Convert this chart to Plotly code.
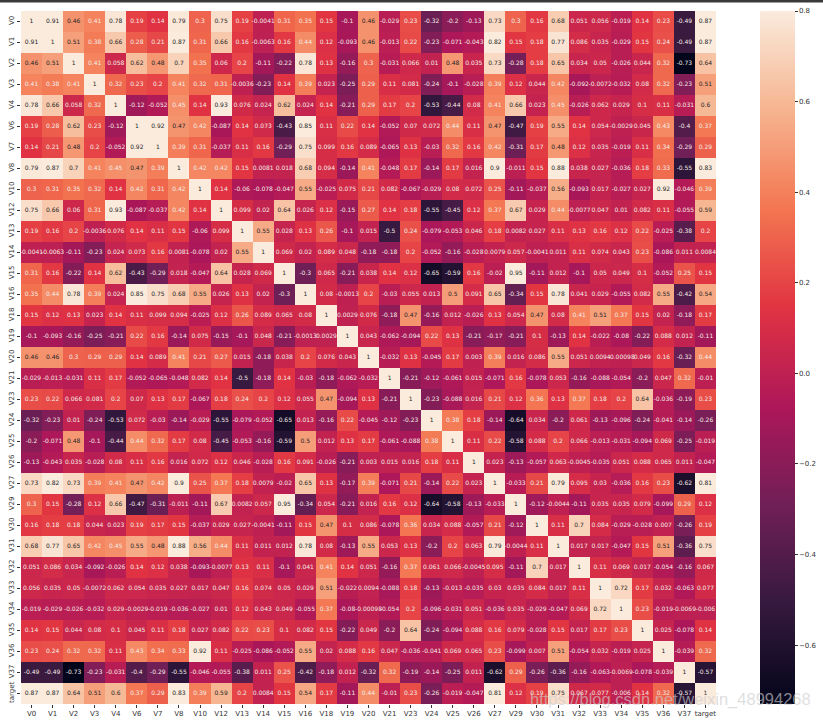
import plotly.graph_objects as go

labels = ["V0","V1","V2","V3","V4","V6","V7","V8","V10","V12","V13","V14","V15","V16","V18","V19","V20","V21","V23","V24","V25","V26","V27","V29","V30","V31","V32","V33","V34","V35","V36","V37","target"]

r_V0 = [1,.91,.46,.41,.78,.19,.14,.79,.3,.75,.19,-.0041,.31,.35,.15,-.1,.46,-.029,.23,-.32,-.2,-.13,.73,.3,.16,.68,.051,.056,-.019,.14,.23,-.49,.87]
r_V1 = [.91,1,.51,.38,.66,.28,.21,.87,.31,.66,.16,-.0063,.16,.44,.12,-.093,.46,-.013,.22,-.23,-.071,-.043,.82,.15,.18,.77,.086,.035,-.029,.15,.24,-.49,.87]
r_V2 = [.46,.51,1,.41,.058,.62,.48,.7,.35,.06,.2,-.11,-.22,.78,.13,-.16,.3,-.031,.066,.01,.48,.035,.73,-.28,.18,.65,.034,.05,-.026,.044,.32,-.73,.64]
r_V3 = [.41,.38,.41,1,.32,.23,.2,.41,.32,.31,-.0036,-.23,.14,.39,.023,-.25,.29,.11,.081,-.24,-.1,-.028,.39,.12,.044,.42,-.092,-.0072,-.032,.08,.32,-.23,.51]
r_V4 = [.78,.66,.058,.32,1,-.12,-.052,.45,.14,.93,.076,.024,.62,.024,.14,-.21,.29,.17,.2,-.53,-.44,.08,.41,.66,.023,.45,-.026,.062,.029,.1,.11,-.031,.6]
r_V6 = [.19,.28,.62,.23,-.12,1,.92,.47,.42,-.087,.14,.073,-.43,.85,.11,.22,.14,-.052,.07,.072,.44,.11,.47,-.47,.19,.55,.14,.054,-.0029,.045,.43,-.4,.37]
r_V7 = [.14,.21,.48,.2,-.052,.92,1,.39,.31,-.037,.11,.16,-.29,.75,.099,.16,.089,-.065,.13,-.03,.32,.16,.42,-.31,.17,.48,.12,.035,-.019,.11,.34,-.29,.29]
r_V8 = [.79,.87,.7,.41,.45,.47,.39,1,.42,.42,.15,.0081,.018,.68,.094,-.14,.41,-.048,.17,-.14,.17,.016,.9,-.011,.15,.88,.038,.027,-.036,.18,.33,-.55,.83]
r_V10 = [.3,.31,.35,.32,.14,.42,.31,.42,1,.14,-.06,-.078,-.047,.55,-.025,.075,.21,.082,-.067,-.029,.08,.072,.25,-.11,-.037,.56,-.093,.017,-.027,.027,.92,-.046,.39]
r_V12 = [.75,.66,.06,.31,.93,-.087,-.037,.42,.14,1,.099,.02,.64,.026,.12,-.15,.27,.14,.18,-.55,-.45,.12,.37,.67,.029,.44,-.0077,.047,.01,.082,.11,-.055,.59]
r_V13 = [.19,.16,.2,-.0036,.076,.14,.11,.15,-.06,.099,1,.55,.028,.13,.26,-.1,.015,-.5,.24,-.079,-.053,.046,.18,.0082,.027,.11,.13,.16,.12,.22,-.025,-.38,.2]
r_V14 = [-.0041,-.0063,-.11,-.23,.024,.073,.16,.0081,-.078,.02,.55,1,.069,.02,.089,.048,-.18,-.18,.2,-.052,-.16,-.028,.0079,.057,-.0041,.011,.11,.074,.043,.23,-.086,.011,.0084]
r_V15 = [.31,.16,-.22,.14,.62,-.43,-.29,.018,-.047,.64,.028,.069,1,-.3,.065,-.21,.038,.14,.12,-.65,-.59,.16,-.02,.95,-.11,.012,-.1,.05,.049,.1,-.052,.25,.15]
r_V16 = [.35,.44,.78,.39,.024,.85,.75,.68,.55,.026,.13,.02,-.3,1,.08,-.0013,.2,-.03,.055,.013,.5,.091,.65,-.34,.15,.78,.041,.029,-.055,.082,.55,-.42,.54]
r_V18 = [.15,.12,.13,.023,.14,.11,.099,.094,-.025,.12,.26,.089,.065,.08,1,.0029,.076,-.18,.47,-.16,.012,-.026,.13,.054,.47,.08,.41,.51,.37,.15,.02,-.18,.17]
r_V19 = [-.1,-.093,-.16,-.25,-.21,.22,.16,-.14,.075,-.15,-.1,.048,-.21,-.0013,.0029,1,.043,-.062,-.094,.22,.13,-.21,-.17,-.21,.1,-.13,.14,-.022,-.08,-.22,.088,.012,-.11]
r_V20 = [.46,.46,.3,.29,.29,.14,.089,.41,.21,.27,.015,-.18,.038,.2,.076,.043,1,-.032,.13,-.045,.17,.003,.39,.016,.086,.55,.051,.0094,-.00098,.049,.16,-.32,.44]
r_V21 = [-.029,-.013,-.031,.11,.17,-.052,-.065,-.048,.082,.14,-.5,-.18,.14,-.03,-.18,-.062,-.032,1,-.21,-.12,-.061,.015,-.071,.16,-.078,.053,-.16,-.088,-.054,-.2,.047,.32,-.01]
r_V23 = [.23,.22,.066,.081,.2,.07,.13,.17,-.067,.18,.24,.2,.12,.055,.47,-.094,.13,-.21,1,-.23,-.088,.016,.21,.12,.36,.13,.37,.18,.2,.64,-.036,-.19,.23]
r_V24 = [-.32,-.23,.01,-.24,-.53,.072,-.03,-.14,-.029,-.55,-.079,-.052,-.65,.013,-.16,.22,-.045,-.12,-.23,1,.38,.18,-.14,-.64,.034,-.2,.061,-.13,-.096,-.24,-.041,-.14,-.26]
r_V25 = [-.2,-.071,.48,-.1,-.44,.44,.32,.17,.08,-.45,-.053,-.16,-.59,.5,.012,.13,.17,-.061,-.088,.38,1,.11,.22,-.58,.088,.2,.066,-.013,-.031,-.094,.069,-.25,-.019]
r_V26 = [-.13,-.043,.035,-.028,.08,.11,.16,.016,.072,.12,.046,-.028,.16,.091,-.026,-.21,.003,.015,.016,.18,.11,1,.023,-.13,-.057,.063,-.0045,-.035,.051,.088,.065,.011,-.047]
r_V27 = [.73,.82,.73,.39,.41,.47,.42,.9,.25,.37,.18,.0079,-.02,.65,.13,-.17,.39,-.071,.21,-.14,.22,.023,1,-.033,.21,.79,.095,.03,-.036,.16,.23,-.62,.81]
r_V29 = [.3,.15,-.28,.12,.66,-.47,-.31,-.011,-.11,.67,.0082,.057,.95,-.34,.054,-.21,.016,.16,.12,-.64,-.58,-.13,-.033,1,-.12,-.0044,-.11,.035,.035,.079,-.099,.29,.12]
r_V30 = [.16,.18,.18,.044,.023,.19,.17,.15,-.037,.029,.027,-.0041,-.11,.15,.47,.1,.086,-.078,.36,.034,.088,-.057,.21,-.12,1,.11,.7,.084,-.029,-.028,.007,-.26,.19]
r_V31 = [.68,.77,.65,.42,.45,.55,.48,.88,.56,.44,.11,.011,.012,.78,.08,-.13,.55,.053,.13,-.2,.2,.063,.79,-.0044,.11,1,.017,.017,-.047,.15,.51,-.36,.75]
r_V32 = [.051,.086,.034,-.092,-.026,.14,.12,.038,-.093,-.0077,.13,.11,-.1,.041,.41,.14,.051,-.16,.37,.061,.066,-.0045,.095,-.11,.7,.017,1,.11,.069,.017,-.054,-.16,.067]
r_V33 = [.056,.035,.05,-.0072,.062,.054,.035,.027,.017,.047,.16,.074,.05,.029,.51,-.022,.0094,-.088,.18,-.13,-.013,-.035,.03,.035,.084,.017,.11,1,.72,.17,.032,-.063,.077]
r_V34 = [-.019,-.029,-.026,-.032,.029,-.0029,-.019,-.036,-.027,.01,.12,.043,.049,-.055,.37,-.08,-.00098,-.054,.2,-.096,-.031,.051,-.036,.035,-.029,-.047,.069,.72,1,.23,-.019,-.0069,-.006]
r_V35 = [.14,.15,.044,.08,.1,.045,.11,.18,.027,.082,.22,.23,.1,.082,.15,-.22,.049,-.2,.64,-.24,-.094,.088,.16,.079,-.028,.15,.017,.17,.23,1,.025,-.078,.14]
r_V36 = [.23,.24,.32,.32,.11,.43,.34,.33,.92,.11,-.025,-.086,-.052,.55,.02,.088,.16,.047,-.036,-.041,.069,.065,.23,-.099,.007,.51,-.054,.032,-.019,.025,1,-.039,.32]
r_V37 = [-.49,-.49,-.73,-.23,-.031,-.4,-.29,-.55,-.046,-.055,-.38,.011,.25,-.42,-.18,.012,-.32,.32,-.19,-.14,-.25,.011,-.62,.29,-.26,-.36,-.16,-.063,-.0069,-.078,-.039,1,-.57]
r_target = [.87,.87,.64,.51,.6,.37,.29,.83,.39,.59,.2,.0084,.15,.54,.17,-.11,.44,-.01,.23,-.26,-.019,-.047,.81,.12,.19,.75,.067,.077,-.006,.14,.32,-.57,1]

rows = [r_V0,r_V1,r_V2,r_V3,r_V4,r_V6,r_V7,r_V8,r_V10,r_V12,r_V13,r_V14,r_V15,r_V16,r_V18,r_V19,r_V20,r_V21,r_V23,r_V24,r_V25,r_V26,r_V27,r_V29,r_V30,r_V31,r_V32,r_V33,r_V34,r_V35,r_V36,r_V37,r_target]
cbar_ticks = [-0.6,-0.4,-0.2,0.0,0.2,0.4,0.6,0.8]
cbar_text = ["\u22120.6","\u22120.4","\u22120.2","0.0","0.2","0.4","0.6","0.8"]

rocket = [[0,"#03051a"],[1/7,"#35193e"],[2/7,"#701f57"],[3/7,"#ad1759"],[4/7,"#e13342"],[5/7,"#f37651"],[6/7,"#f6b48f"],[1,"#faebdd"]]

fig = go.Figure()
fig.add_trace(go.Heatmap(
    z=rows, x=labels, y=labels, colorscale=rocket, zmin=-0.73, zmax=0.8,
    hoverinfo="skip",
    colorbar=dict(thickness=35, len=1, lenmode="fraction", x=1.0633, xanchor="left", y=0.5, yanchor="middle",
                  outlinewidth=0, tickvals=cbar_ticks, ticktext=cbar_text, ticks="outside", ticklen=3,
                  tickwidth=1, tickcolor="#333", xpad=0, ypad=0,
                  tickfont=dict(family="DejaVu Sans", size=7, color="#333")),
))
xs, ys, ts, cs = [], [], [], []
for i, lab in enumerate(labels):
    for j, other in enumerate(labels):
        v = rows[i][j]
        xs.append(other); ys.append(lab); ts.append(f"{v:.2g}")
        cs.append("#262626" if v > 0.455 else "#f5ece6")
fig.add_trace(go.Scatter(x=xs, y=ys, text=ts, mode="text", hoverinfo="skip", showlegend=False,
                         textposition="middle center", cliponaxis=False,
                         textfont=dict(family="DejaVu Sans", size=6, color=cs)))
fig.update_layout(
    width=823, height=720, margin=dict(l=21, r=107, t=11, b=16, autoexpand=False),
    paper_bgcolor="white", plot_bgcolor="white", showlegend=False,
    font=dict(family="DejaVu Sans", size=7, color="#333"),
    shapes=[dict(type="rect", xref="paper", yref="paper", x0=-1, x1=2, y0=1.0123, y1=1.03,
                 fillcolor="#3a3a3a", line_width=0)],
    annotations=[dict(text="https://blog.csdn.net/weixin_48994268", xref="paper", yref="paper",
                      x=1.1396, y=0.0058, xanchor="right", yanchor="middle", showarrow=False,
                      font=dict(family="Liberation Sans", size=16.5, color="rgba(205,205,205,0.65)"))],
)
fig.update_xaxes(type="category", categoryorder="array", categoryarray=labels, range=[-0.5, 32.5], tickangle=0, ticks="outside",
                 ticklen=3, tickwidth=1, tickcolor="#333", showgrid=False, zeroline=False, showline=False, tickfont=dict(size=7))
fig.update_yaxes(type="category", categoryorder="array", categoryarray=labels, range=[32.5, -0.5], tickangle=-90,
                 ticks="outside", ticklen=3, tickwidth=1, tickcolor="#333", showgrid=False, zeroline=False, showline=False, tickfont=dict(size=7))
fig.write_html("out.html", config={"displayModeBar": False},
               post_script="document.body.style.margin='0';document.body.style.overflow='hidden';")
